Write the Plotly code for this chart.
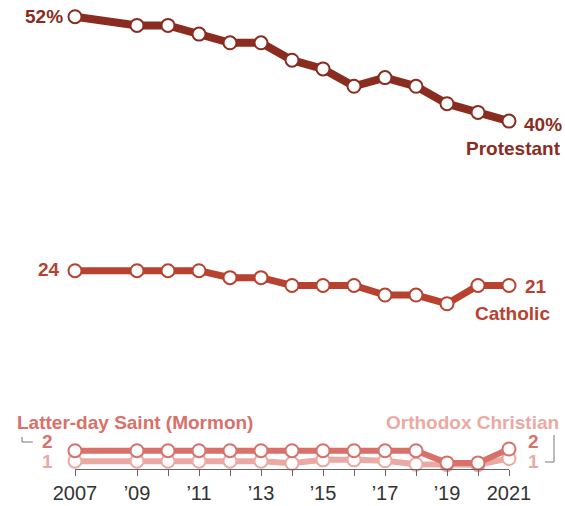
import plotly.graph_objects as go

years = [2007, 2009, 2010, 2011, 2012, 2013, 2014, 2015, 2016, 2017, 2018, 2019, 2020, 2021]
protestant = [52, 51, 51, 50, 49, 49, 47, 46, 44, 45, 44, 42, 41, 40]
catholic = [22.8, 22.8, 22.8, 22.8, 22.0, 22.0, 21.1, 21.1, 21.1, 20.0, 20.0, 19.0, 21.1, 21.1]
mormon = [2.1, 2.1, 2.1, 2.1, 2.1, 2.1, 2.1, 2.1, 2.1, 2.1, 2.1, 0.7, 0.7, 2.3]
orthodox = [0.9, 0.9, 0.9, 0.9, 0.9, 0.9, 0.65, 1.05, 1.05, 0.95, 0.55, 0.5, 0.5, 1.2]
tick_text = ["2007", "’09", "", "’11", "", "’13", "", "’15", "", "’17", "", "’19", "", "2021"]

C_PROT = "#8a2c1f"
C_CATH = "#b8412f"
C_MORM = "#d9706a"
C_ORTH = "#eba9a3"
FONT = "Liberation Sans"


def series(y, color, width):
    return go.Scatter(
        x=years, y=y, mode="lines+markers",
        line=dict(color=color, width=width),
        marker=dict(size=13, color="white", line=dict(color=color, width=2)),
        cliponaxis=False, showlegend=False, hoverinfo="skip"
    )


fig = go.Figure()
fig.add_trace(series(orthodox, C_ORTH, 6))
fig.add_trace(series(mormon, C_MORM, 6))
fig.add_trace(series(catholic, C_CATH, 7))
fig.add_trace(series(protestant, C_PROT, 8))


def label(x, y, text, color, xanchor, xshift=0, yshift=0, xref="x", yref="y"):
    fig.add_annotation(
        x=x, y=y, xref=xref, yref=yref, text=f"<b>{text}</b>", showarrow=False,
        xanchor=xanchor, yanchor="middle", xshift=xshift, yshift=yshift,
        font=dict(family=FONT, size=19, color=color)
    )


label(years[0], protestant[0], "52%", C_PROT, "right", xshift=-10)
label(years[-1], protestant[-1], "40%", C_PROT, "left", xshift=13, yshift=-3)
label(1.125, 0.696, "Protestant", C_PROT, "right", xref="paper", yref="paper")
label(years[0], catholic[0], "24", C_CATH, "right", xshift=-13, yshift=1)
label(years[-1], catholic[-1], "21", C_CATH, "left", xshift=14, yshift=-1)
label(1.1, 0.338, "Catholic", C_CATH, "right", xref="paper", yref="paper")

# small groups
label(-0.138, 0.0998, "Latter-day Saint (Mormon)", C_MORM, "left", xref="paper", yref="paper")
label(-0.045, 0.059, "2", C_MORM, "right", xref="paper", yref="paper")
label(-0.045, 0.016, "1", C_ORTH, "right", xref="paper", yref="paper")
label(1.12, 0.0998, "Orthodox Christian", C_ORTH, "right", xref="paper", yref="paper")
label(1.04, 0.059, "2", C_MORM, "left", xref="paper", yref="paper")
label(1.04, 0.016, "1", C_ORTH, "left", xref="paper", yref="paper")

# bracket marks
fig.add_shape(type="path", xref="paper", yref="paper",
              path="M -0.122 0.0694 L -0.122 0.0586 L -0.097 0.0586",
              line=dict(color="#777", width=1))
fig.add_shape(type="path", xref="paper", yref="paper",
              path="M 1.083 0.0152 L 1.1037 0.0152 L 1.1037 0.0738",
              line=dict(color="#777", width=1))

fig.update_layout(
    width=565, height=506,
    margin=dict(l=75, r=56, t=8, b=37),
    plot_bgcolor="white", paper_bgcolor="white",
    font=dict(family=FONT),
    xaxis=dict(
        range=[2007, 2021], tickvals=years, ticktext=tick_text, automargin=False,
        showgrid=False, zeroline=False, showline=True, linecolor="#666", linewidth=1,
        ticks="outside", ticklen=6, tickcolor="#666",
        tickfont=dict(family=FONT, size=20, color="#333")
    ),
    yaxis=dict(range=[0, 53], visible=False, showgrid=False, zeroline=False,
               automargin=False)
)

# drop the default page margin so the figure fills the window exactly
fig.write_html("out.html", config={"displayModeBar": False},
               post_script="document.body.style.margin='0';document.body.style.overflow='hidden';")
